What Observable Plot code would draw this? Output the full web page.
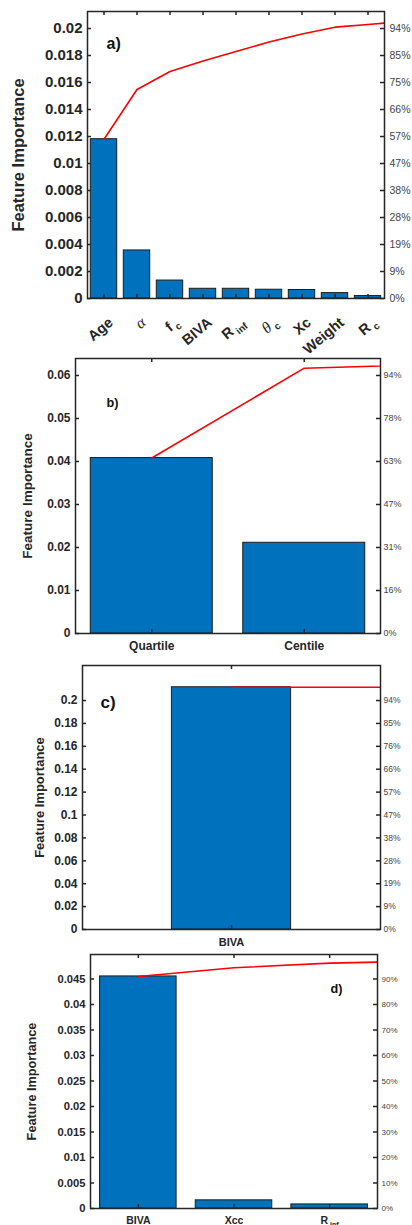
<!DOCTYPE html>
<html><head><meta charset="utf-8">
<script src="https://cdn.jsdelivr.net/npm/d3@7"></script>
<script src="https://cdn.jsdelivr.net/npm/@observablehq/plot@0.6"></script>
<style>
html,body{margin:0;padding:0;background:#fff;}
body{width:412px;height:1225px;overflow:hidden;}
#root svg{display:block;}
</style></head><body><div id="root"></div>
<script>
const FONT = "'Liberation Sans', Arial, Helvetica, sans-serif";

// ---- panel a) ----
const catsA = ["Age", "α", "f_c", "BIVA", "R_inf", "θ_c", "Xc", "Weight", "R_c"];
const valsA = [0.0118, 0.00356, 0.00133, 0.00072, 0.00072, 0.00065, 0.00063, 0.00040, 0.00018];
const cumA  = [0.0118, 0.01548, 0.01681, 0.0176, 0.0183, 0.0190, 0.0196, 0.0201, 0.0203, 0.0205];
const ticksA = [0, 0.002, 0.004, 0.006, 0.008, 0.01, 0.012, 0.014, 0.016, 0.018, 0.02];
const pctA = ["0%", "9%", "19%", "28%", "38%", "47%", "57%", "66%", "75%", "85%", "94%"];

// ---- panel b) ----
const catsB = ["Quartile", "Centile"];
const valsB = [0.0408, 0.0211];
const cumB  = [0.0408, 0.0617, 0.0627];
const ticksB = [0, 0.01, 0.02, 0.03, 0.04, 0.05, 0.06];
const pctB = ["0%", "16%", "31%", "47%", "63%", "78%", "94%"];

// ---- panel c) ----
const catsC = ["BIVA"];
const valsC = [0.2116];
const cumC  = [0.2116, 0.2116];
const ticksC = [0, 0.02, 0.04, 0.06, 0.08, 0.1, 0.12, 0.14, 0.16, 0.18, 0.2];
const pctC = ["0%", "9%", "19%", "28%", "38%", "47%", "57%", "66%", "76%", "85%", "94%"];

// ---- panel d) ----
const catsD = ["BIVA", "Xcc", "R_inf"];
const valsD = [0.0455, 0.0016, 0.0008];
const cumD  = [0.0455, 0.0472, 0.0481, 0.0485];
const ticksD = [0, 0.005, 0.01, 0.015, 0.02, 0.025, 0.03, 0.035, 0.04, 0.045];
const pctD = ["0%", "10%", "20%", "30%", "40%", "50%", "60%", "70%", "80%", "90%"];

const YLABEL = "Feature Importance";
const DARK = "#262626";

function richify(svg) {
  d3.select(svg).selectAll("text").each(function () {
    const t = this.textContent;
    if (this.querySelector("tspan")) return;
    if (!t.includes("_") && !/[α-ω]/.test(t)) return;
    const [base, sub] = t.split("_");
    const el = d3.select(this);
    el.text(null);
    const b = el.append("tspan").text(base);
    if (/^[α-ω]$/.test(base)) {
      b.attr("font-family", "'Liberation Serif', 'DejaVu Serif', serif")
       .attr("font-style", "italic").attr("font-weight", "normal").attr("font-size", "110%");
    }
    if (sub) el.append("tspan").text(sub).attr("font-size", "68%").attr("dx", "0.25em").attr("dy", "0.4em");
  });
}

function panel(p) {
  const W = 412;
  const innerW = W - p.ml - p.mr;
  const innerH = p.h - p.mt - p.mb;
  const idx = p.cats.map((_, i) => i);
  const bars = p.cats.map((c, i) => ({i, c, v: p.vals[i]}));
  const line = p.cum.map((v, i) => ({i, v}));
  const pctMap = new Map(p.ticks.map((t, k) => [t, p.pct[k]]));
  const marks = [
    Plot.rectY(bars, {x1: d => d.i - 0.4, x2: d => d.i + 0.4, y1: 0, y2: "v",
      fill: "#0072BD", stroke: "#1c1c1c", strokeWidth: 1}),
    // inner ticks
    Plot.tickY(p.ticks, {y: d => d, stroke: DARK, strokeWidth: 1.5, insetRight: innerW - 4}),
    Plot.tickY(p.ticks, {y: d => d, stroke: DARK, strokeWidth: 1.5, insetLeft: innerW - 4}),
    Plot.tickX(idx, {x: d => d, stroke: DARK, strokeWidth: 1.5, insetTop: innerH - 4}),
    Plot.tickX(idx, {x: d => d, stroke: DARK, strokeWidth: 1.5, insetBottom: innerH - 4}),
    Plot.lineY(line, {x: "i", y: "v", stroke: "#ff0000", strokeWidth: 1.6, clip: true}),
    Plot.frame({stroke: DARK, strokeWidth: 1.5}),
    Plot.axisY(p.ticks, {anchor: "left", tickSize: 0, tickPadding: 5, tickFormat: d => String(d),
      fontSize: p.lfs, fontWeight: "bold", fill: DARK, label: null}),
    Plot.axisY(p.ticks, {anchor: "right", tickSize: 0, tickPadding: p.rpad, tickFormat: d => pctMap.get(d),
      fontSize: p.rfs, fill: "#444", label: null}),
    Plot.text([YLABEL], {frameAnchor: "left", text: d => d, rotate: -90, dx: p.ylx - p.ml,
      textAnchor: "middle", lineAnchor: "middle",
      fontSize: p.yfs, fontWeight: "bold", fill: DARK}),
    Plot.text([p.tag], {frameAnchor: "top-left", text: d => d, textAnchor: "start", dx: p.tagdx, dy: p.tagdy,
      fontSize: p.tagfs, fontWeight: "bold", fill: "#111"})
  ];
  if (p.rotated) {
    marks.push(Plot.text(idx, {x: d => d, text: i => p.cats[i], frameAnchor: "bottom", rotate: -40,
      textAnchor: "end", lineAnchor: "middle", dx: 7, dy: 22, fontSize: p.xfs, fontWeight: "bold", fill: DARK}));
  } else {
    marks.push(Plot.axisX(idx, {anchor: "bottom", tickSize: 0, tickPadding: p.xpad, tickFormat: i => p.cats[i],
      fontSize: p.xfs, fontWeight: "bold", fill: DARK, label: null}));
  }
  const svg = Plot.plot({
    width: W, height: p.h,
    marginLeft: p.ml, marginRight: p.mr, marginTop: p.mt, marginBottom: p.mb,
    x: {domain: p.xdom, axis: p.rotated ? null : undefined},
    y: {domain: [0, p.ymax]},
    style: {fontFamily: FONT, background: "white", overflow: "visible"},
    marks
  });
  richify(svg);
  return svg;
}

const root = document.getElementById("root");
root.append(panel({cats: catsA, vals: valsA, cum: cumA, ticks: ticksA, pct: pctA,
  h: 352, ml: 87, mr: 28, mt: 11, mb: 54, xdom: [-0.5, 8.5], ymax: 0.02126,
  lfs: 15, rfs: 10.5, rpad: 5, yfs: 16.5, ylx: 18, xfs: 14.5, rotated: true,
  tag: "a)", tagdx: 19, tagdy: 26, tagfs: 16}));
root.append(panel({cats: catsB, vals: valsB, cum: cumB, ticks: ticksB, pct: pctB,
  h: 303, ml: 75, mr: 32, mt: 6, mb: 22, xdom: [-0.5, 1.5], ymax: 0.06395,
  lfs: 12, rfs: 9, rpad: 3, yfs: 13.5, ylx: 27, xfs: 12, xpad: 8,
  tag: "b)", tagdx: 31, tagdy: 39, tagfs: 12.7}));
root.append(panel({cats: catsC, vals: valsC, cum: cumC, ticks: ticksC, pct: pctC,
  h: 295, ml: 82, mr: 32, mt: 10, mb: 21, xdom: [-1, 1], ymax: 0.2306,
  lfs: 12, rfs: 8.5, rpad: 3, yfs: 13, ylx: 39, xfs: 11, xpad: 9,
  tag: "c)", tagdx: 18, tagdy: 30, tagfs: 17}));
root.append(panel({cats: catsD, vals: valsD, cum: cumD, ticks: ticksD, pct: pctD,
  h: 275, ml: 90, mr: 35, mt: 4, mb: 17, xdom: [-0.5, 2.5], ymax: 0.0498,
  lfs: 11.2, rfs: 8, rpad: 4, yfs: 12.7, ylx: 31, xfs: 10.5, xpad: 8,
  tag: "d)", tagdx: 240, tagdy: 29, tagfs: 12.7}));
</script>
</body></html>
